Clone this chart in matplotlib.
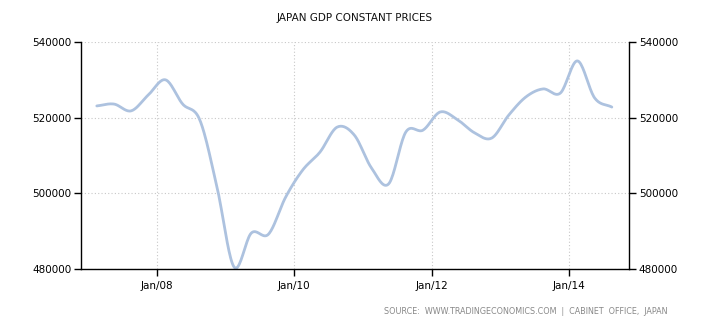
import numpy as np
import matplotlib.pyplot as plt

# quarterly GDP, constant prices (JPY billion), 2007Q1 .. 2014Q3
quarters = [f"{y}Q{q}" for y in range(2007, 2015) for q in range(1, 5)][:31]
gdp = [523100, 523600, 521800, 526000, 530000, 523600, 519400, 501700,
       480500, 489500, 489200, 499000, 506200, 510900, 517500, 515400,
       506700, 502500, 516200, 516700, 521500, 519500, 516000, 514600,
       520700, 525500, 527600, 526500, 535000, 525200, 522800]
xtick_years = [2008, 2010, 2012, 2014]
xtick_labels = ["Jan/08", "Jan/10", "Jan/12", "Jan/14"]
yticks = [480000, 500000, 520000, 540000]

# position of each quarter on a fractional-year axis
x = np.array([int(s[:4]) + (int(s[-1]) - 1) * 0.25 + 0.125 for s in quarters])
y = np.array(gdp, dtype=float)


def smooth(x, y, n=20):
    # cubic hermite through the points, slopes from np.gradient
    m = np.gradient(y, x)
    xs, ys = [], []
    for i in range(len(x) - 1):
        h = x[i + 1] - x[i]
        t = np.linspace(0, 1, n, endpoint=False)
        h00 = 2 * t**3 - 3 * t**2 + 1
        h10 = t**3 - 2 * t**2 + t
        h01 = -2 * t**3 + 3 * t**2
        h11 = t**3 - t**2
        xs.append(x[i] + t * h)
        ys.append(h00 * y[i] + h10 * h * m[i] + h01 * y[i + 1] + h11 * h * m[i + 1])
    xs.append([x[-1]])
    ys.append([y[-1]])
    return np.concatenate(xs), np.concatenate(ys)


sx, sy = smooth(x, y)

fig = plt.figure(figsize=(7.1, 3.25), dpi=100)
ax = fig.add_axes([81 / 710, 56 / 325, 548 / 710, 227 / 325])
ax.plot(sx, sy, color="#adc2df", lw=2, solid_capstyle="round")

ax.set_xlim(2006.895, 2014.875)
ax.set_ylim(480000, 540000)
ax.set_xticks(xtick_years)
ax.set_xticklabels(xtick_labels)
ax.set_yticks(yticks)
ax.tick_params(axis="both", labelsize=7.5, length=5, width=1, colors="black")
ax.tick_params(axis="y", left=True, right=True, labelleft=True, labelright=True, pad=2)
ax.grid(True, color="#c8c8c8", linestyle=(0, (1, 2)), linewidth=0.8)

ax.spines["top"].set_visible(False)
for s in ["left", "right", "bottom"]:
    ax.spines[s].set_linewidth(1)
    ax.spines[s].set_color("black")

fig.text(355 / 710, 1 - 18 / 325, "JAPAN GDP CONSTANT PRICES", ha="center", va="center",
         fontsize=7.5, color="#111111", fontweight="medium")
fig.text(667 / 710, 1 - 311 / 325,
         "SOURCE:  WWW.TRADINGECONOMICS.COM  |  CABINET  OFFICE,  JAPAN",
         ha="right", va="center", fontsize=5.75, color="#888888")

fig.savefig("out.png", dpi=100)
